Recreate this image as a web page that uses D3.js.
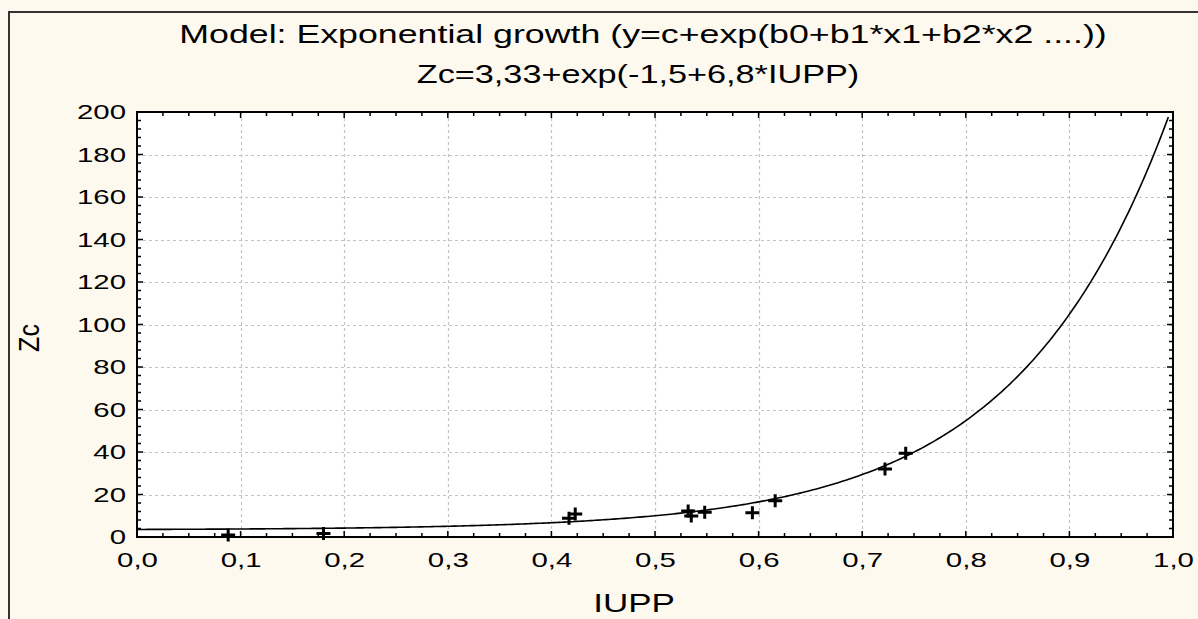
<!DOCTYPE html>
<html>
<head>
<meta charset="utf-8">
<script src="https://cdn.jsdelivr.net/npm/d3@7"></script>
<style>
  html, body { margin: 0; padding: 0; background: #fef9ef; }
  svg { display: block; }
  text { font-family: "Liberation Sans", Arial, sans-serif; fill: #000; }
</style>
</head>
<body>
<svg id="chart" width="1198" height="619"></svg>
<script>
// Observed IUPP / Zc pairs
const iupp = [0.088, 0.180, 0.417, 0.423, 0.532, 0.535, 0.548, 0.594, 0.616, 0.722, 0.742];
const zc   = [1.0,   1.7,   8.8,   10.8,  12.2,  9.9,   11.6,  11.4,  17.1,  32.0,  39.4];

// Fitted model parameters: Zc = c + exp(b0 + b1*IUPP)
const modelC = 3.33;
const modelB0 = -1.5;
const modelB1 = 6.8;

// Axis ticks
const xTicks = [0, 0.1, 0.2, 0.3, 0.4, 0.5, 0.6, 0.7, 0.8, 0.9, 1.0];
const yTicks = [0, 20, 40, 60, 80, 100, 120, 140, 160, 180, 200];

const titleLines = [
  "Model: Exponential growth (y=c+exp(b0+b1*x1+b2*x2 ....))",
  "Zc=3,33+exp(-1,5+6,8*IUPP)"
];

const svg = d3.select("#chart");
const W = 1198, H = 619;
const plot = { left: 137, right: 1173, top: 112, bottom: 537 };
const SX = 1.4; // wide lettering: glyphs are stretched horizontally

const x = d3.scaleLinear().domain([0, 1]).range([plot.left, plot.right]);
const y = d3.scaleLinear().domain([0, 200]).range([plot.bottom, plot.top]);
const fmtX = v => d3.format(".1f")(v).replace(".", ",");

// outer frame (left and top edges)
svg.append("path")
  .attr("d", `M9,${H} V12 H${W}`)
  .attr("fill", "none").attr("stroke", "#333").attr("stroke-width", 2);

// plot background
svg.append("rect")
  .attr("x", plot.left).attr("y", plot.top)
  .attr("width", plot.right - plot.left).attr("height", plot.bottom - plot.top)
  .attr("fill", "#fff");

// dashed grid
const grid = svg.append("g").attr("stroke", "#c4c4c4").attr("stroke-width", 1.2)
  .attr("stroke-dasharray", "3,3");
grid.selectAll("line.gx").data(xTicks.slice(1, -1)).join("line")
  .attr("x1", d => Math.round(x(d)) + 0.5).attr("x2", d => Math.round(x(d)) + 0.5)
  .attr("y1", plot.top).attr("y2", plot.bottom);
grid.selectAll("line.gy").data(yTicks.slice(1, -1)).join("line")
  .attr("y1", d => Math.round(y(d)) + 0.5).attr("y2", d => Math.round(y(d)) + 0.5)
  .attr("x1", plot.left).attr("x2", plot.right);

// inward tick marks on all four sides
const xMinor = d3.range(0, 1.0001, 0.025);
const yMinor = d3.range(0, 200.001, 4);
const tk = svg.append("g").attr("stroke", "#000").attr("stroke-width", 1.5);
const isMajorX = v => Math.abs(v * 10 - Math.round(v * 10)) < 1e-6;
const isMajorY = v => v % 20 === 0;
xMinor.forEach(v => {
  const len = isMajorX(v) ? 6 : 4;
  const px = x(v);
  tk.append("line").attr("x1", px).attr("x2", px).attr("y1", plot.bottom).attr("y2", plot.bottom - len);
  tk.append("line").attr("x1", px).attr("x2", px).attr("y1", plot.top).attr("y2", plot.top + len);
});
yMinor.forEach(v => {
  const len = isMajorY(v) ? 6 : 4;
  const py = y(v);
  tk.append("line").attr("y1", py).attr("y2", py).attr("x1", plot.left).attr("x2", plot.left + len);
  tk.append("line").attr("y1", py).attr("y2", py).attr("x1", plot.right).attr("x2", plot.right - len);
});

// axis labels via d3 axes (tick lines hidden, labels only)
const xAxis = svg.append("g").attr("transform", `translate(0,${plot.bottom})`)
  .call(d3.axisBottom(x).tickValues(xTicks).tickFormat(fmtX).tickSize(0).tickPadding(15));
const yAxis = svg.append("g").attr("transform", `translate(${plot.left},0)`)
  .call(d3.axisLeft(y).tickValues(yTicks).tickFormat(d3.format("d")).tickSize(0).tickPadding(11));
[xAxis, yAxis].forEach(a => {
  a.select(".domain").remove();
  a.selectAll("text").style("font-family", '"Liberation Sans", Arial, sans-serif')
    .style("font-size", "21px").attr("fill", "#000")
    .attr("transform", `scale(${SX},1)`);
});
yAxis.selectAll("text").attr("x", -11 / SX);

// fitted curve
const curveXs = d3.range(0, 0.9955, 0.0025).concat([0.9955]);
const line = d3.line().x(d => x(d)).y(d => y(modelC + Math.exp(modelB0 + modelB1 * d)));
svg.append("path").datum(curveXs)
  .attr("d", line).attr("fill", "none").attr("stroke", "#000").attr("stroke-width", 1.6);

// plot frame
svg.append("rect")
  .attr("x", plot.left).attr("y", plot.top)
  .attr("width", plot.right - plot.left).attr("height", plot.bottom - plot.top)
  .attr("fill", "none").attr("stroke", "#000").attr("stroke-width", 2);

// observed points as crosses
const pts = iupp.map((v, i) => ({ x: v, y: zc[i] }));
svg.append("g").selectAll("path").data(pts).join("path")
  .attr("transform", d => `translate(${x(d.x)},${y(d.y)})`)
  .attr("d", "M-7,0H7M0,-6.5V6.5")
  .attr("stroke", "#000").attr("stroke-width", 3).attr("fill", "none");

// titles
svg.append("text").attr("transform", `translate(643,43) scale(1.43,1)`).attr("text-anchor", "middle")
  .style("font-size", "25px").text(titleLines[0]);
svg.append("text").attr("transform", `translate(638,83) scale(1.37,1)`).attr("text-anchor", "middle")
  .style("font-size", "25px").text(titleLines[1]);

// axis titles
svg.append("text").attr("transform", `translate(634,612) scale(${SX},1)`).attr("text-anchor", "middle")
  .style("font-size", "25px").text("IUPP");
svg.append("text").attr("transform", `translate(39,338) scale(1.15,1) rotate(-90)`).attr("text-anchor", "middle")
  .style("font-size", "25px").text("Zc");
</script>
</body>
</html>
